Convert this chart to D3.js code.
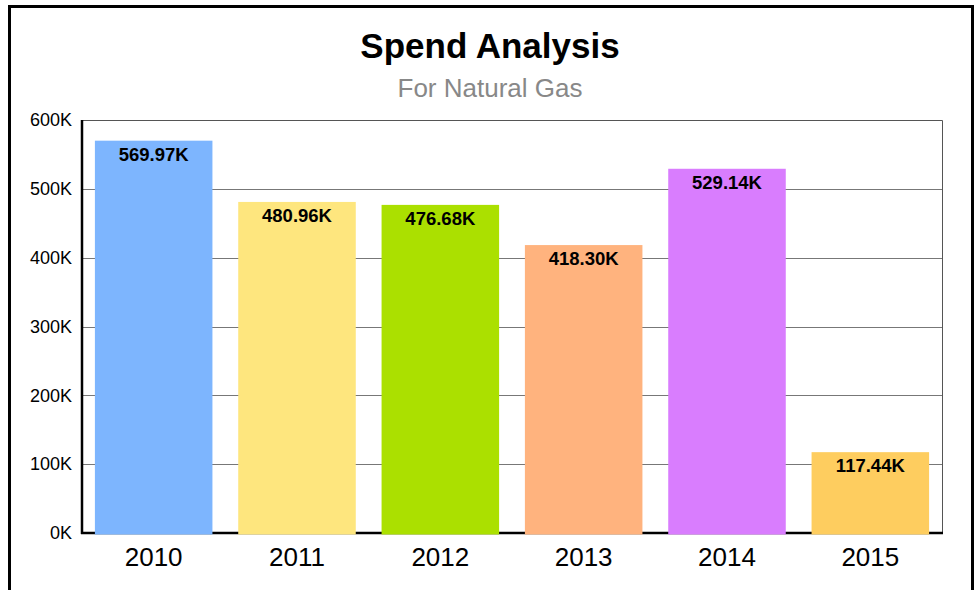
<!DOCTYPE html>
<html lang="en">
<head>
    <meta charset="UTF-8">
    <title>Spend Analysis</title>
    <style>
      body { margin: 0; background: #fff; }
      text { font-family: "Liberation Sans", Arial, sans-serif; }
    </style>
</head>
<body>
<svg height="590" width="976"></svg>

<script src="https://d3js.org/d3.v7.min.js"></script>
<script>

  var years = ["2010", "2011", "2012", "2013", "2014", "2015"];
  var spend = [569970, 480960, 476680, 418300, 529140, 117440];
  var barColors = ["#7db5fe", "#fee67e", "#abe000", "#ffb37e", "#d97dfe", "#fecd5f"];
  var yTicks = [0, 100000, 200000, 300000, 400000, 500000, 600000];

  var translate = function(x, y) {
    return "translate(" + x + "," + y + ")";
  }

  var fmtK = function(v) { return (v / 1000).toFixed(2) + "K"; }
  var tickK = function(v) { return (v / 1000) + "K"; }

  var graphMargins = {top: 120, right: 34, bottom: 57, left: 82};

  var root = d3.select("svg");
  var graphWidth = root.attr("width") - graphMargins.left - graphMargins.right;
  var graphHeight = root.attr("height") - graphMargins.top - graphMargins.bottom;

  // outer frame, runs off the bottom of the picture
  root.append("rect")
      .attr("x", 9.5).attr("y", 6.5)
      .attr("width", 963).attr("height", 600)
      .attr("fill", "none")
      .attr("stroke", "#000")
      .attr("stroke-width", 3);

  root.append("text")
      .attr("x", 490).attr("y", 58)
      .attr("text-anchor", "middle")
      .style("font-size", "35px")
      .style("font-weight", "bold")
      .text("Spend Analysis");

  root.append("text")
      .attr("x", 490).attr("y", 97)
      .attr("text-anchor", "middle")
      .style("font-size", "26px")
      .style("fill", "#888")
      .text("For Natural Gas");

  var svg = root.append("g")
      .attr("transform", translate(graphMargins.left, graphMargins.top));

  var spendToHeight = d3.scaleLinear().domain([0, 600000]).range([graphHeight, 0]);
  var yearIndex = d3.scaleBand().domain(years).range([0, graphWidth])
      .paddingInner(0.18).paddingOuter(0.09);

  // plot frame, top and right
  svg.append("path")
      .attr("d", "M0,0.5H" + (graphWidth + 0.5) + "V" + graphHeight)
      .attr("fill", "none")
      .attr("stroke", "#555")
      .attr("stroke-width", 1);

  // grid
  svg.selectAll(".grid")
      .data(yTicks.slice(1, -1))
      .enter()
      .append("line")
      .attr("class", "grid")
      .attr("x1", 0).attr("x2", graphWidth)
      .attr("y1", function(d) { return Math.round(spendToHeight(d)) + 0.5 })
      .attr("y2", function(d) { return Math.round(spendToHeight(d)) + 0.5 })
      .attr("stroke", "#777")
      .attr("stroke-width", 1);

  var spendAxis = d3.axisLeft(spendToHeight).tickValues(yTicks).tickFormat(tickK)
      .tickSize(0).tickPadding(10);

  var yAxisG = svg.append("g").call(spendAxis);
  yAxisG.select(".domain").remove();
  yAxisG.selectAll("text").style("font-size", "18px").attr("fill", "#000");

  svg.append("line")
      .attr("x1", 0).attr("x2", 0).attr("y1", 0).attr("y2", graphHeight + 1)
      .attr("stroke", "#000").attr("stroke-width", 2.5);

  svg.append("line")
      .attr("x1", -1).attr("x2", graphWidth + 1).attr("y1", graphHeight).attr("y2", graphHeight)
      .attr("stroke", "#000").attr("stroke-width", 2.5);

  var rows = years.map(function(y, i) { return {year: y, value: spend[i], color: barColors[i]}; });

  svg.selectAll(".bar")
      .data(rows)
      .enter()
      .append("rect")
      .attr("class", "bar")
      .attr("x", function(d) { return yearIndex(d.year) })
      .attr("y", function(d) { return spendToHeight(d.value) })
      .attr("width", yearIndex.bandwidth())
      .attr("height", function(d) { return graphHeight - spendToHeight(d.value) + 1.5 })
      .attr("fill", function(d) { return d.color });

  svg.selectAll(".val")
      .data(rows)
      .enter()
      .append("text")
      .attr("class", "val")
      .attr("x", function(d) { return yearIndex(d.year) + yearIndex.bandwidth() / 2 })
      .attr("y", function(d) { return spendToHeight(d.value) + 20 })
      .attr("text-anchor", "middle")
      .style("font-size", "18.5px")
      .style("font-weight", "bold")
      .text(function(d) { return fmtK(d.value) });

  var yearAxis = d3.axisBottom(yearIndex).tickSize(0).tickPadding(15);
  var xAxisG = svg.append("g")
      .attr("transform", translate(0, graphHeight))
      .call(yearAxis);
  xAxisG.select(".domain").remove();
  xAxisG.selectAll("text").style("font-size", "26px").attr("fill", "#000");

</script>
</body>
</html>
